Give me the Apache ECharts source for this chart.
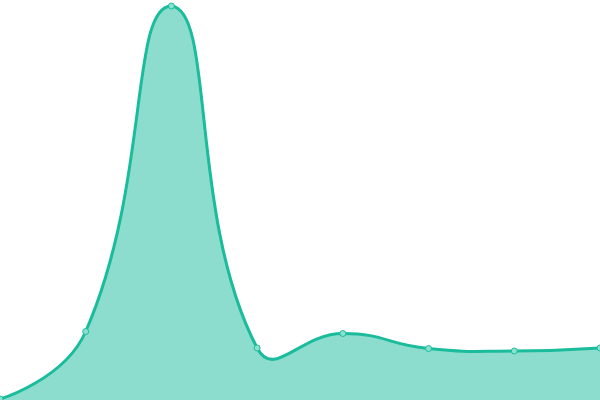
<!DOCTYPE html>
<html>
<head>
<meta charset="utf-8">
<script src="https://cdn.jsdelivr.net/npm/echarts@6/dist/echarts.min.js"></script>
<style>
  html, body { margin: 0; padding: 0; background: #fff; }
  #chart { width: 600px; height: 400px; }
</style>
</head>
<body>
<div id="chart"></div>
<script>
// x categories (evenly spaced points) and their values
const categories = ['A', 'B', 'C', 'D', 'E', 'F', 'G', 'H'];
const values = [1, 68.5, 394, 52, 66.5, 51.5, 49, 52];

const LINE = '#1abc9c';
const SMOOTH = 0.5;

// cardinal-style bezier control points (tangent = next - prev, split by segment length)
function controlPoints(pts) {
  let minY = Infinity, maxY = -Infinity;
  pts.forEach(p => { minY = Math.min(minY, p[1]); maxY = Math.max(maxY, p[1]); });
  const cps = [pts[0].slice()];
  for (let i = 1; i < pts.length - 1; i++) {
    const prev = pts[i - 1], cur = pts[i], next = pts[i + 1];
    const vx = (next[0] - prev[0]) * SMOOTH;
    const vy = (next[1] - prev[1]) * SMOOTH;
    let d0 = Math.hypot(cur[0] - prev[0], cur[1] - prev[1]);
    let d1 = Math.hypot(cur[0] - next[0], cur[1] - next[1]);
    const sum = d0 + d1;
    if (sum) { d0 /= sum; d1 /= sum; }
    const clampY = y => Math.min(maxY, Math.max(minY, y));
    cps.push([cur[0] - vx * d0, clampY(cur[1] - vy * d0)]);
    cps.push([cur[0] + vx * d1, clampY(cur[1] + vy * d1)]);
  }
  cps.push(pts[pts.length - 1].slice());
  return cps;
}

function curvePath(pts) {
  const cps = controlPoints(pts);
  let d = 'M' + pts[0][0] + ',' + pts[0][1];
  for (let i = 1; i < pts.length; i++) {
    const a = cps[(i - 1) * 2], b = cps[(i - 1) * 2 + 1];
    d += 'C' + a[0] + ',' + a[1] + ',' + b[0] + ',' + b[1] + ',' + pts[i][0] + ',' + pts[i][1];
  }
  return d;
}

const chart = echarts.init(document.getElementById('chart'));

const option = {
  animation: false,
  grid: { left: 0, right: 0, top: 6, bottom: 0 },
  xAxis: {
    type: 'category',
    data: categories,
    boundaryGap: false,
    show: false
  },
  yAxis: {
    type: 'value',
    min: 0,
    max: 394,
    show: false
  },
  series: [
    {
      type: 'custom',
      data: values.map((v, i) => [i, v]),
      clip: false,
      renderItem: function (params, api) {
        if (params.dataIndex !== 0) return null;
        const pts = values.map((v, i) => api.coord([i, v]));
        const base = api.coord([0, 0])[1];
        const line = curvePath(pts);
        const last = pts[pts.length - 1];
        const area = line + 'L' + last[0] + ',' + base + 'L' + pts[0][0] + ',' + base + 'Z';
        return {
          type: 'group',
          children: [
            { type: 'path', shape: { pathData: area }, style: { fill: LINE, opacity: 0.5, stroke: null } },
            { type: 'path', shape: { pathData: line }, style: { fill: null, stroke: LINE, lineWidth: 3 } }
          ]
        };
      }
    },
    {
      type: 'scatter',
      data: values,
      symbol: 'circle',
      symbolSize: 6,
      itemStyle: { color: '#8ce0cf', borderColor: LINE, borderWidth: 1, opacity: 1 }
    }
  ]
};

chart.setOption(option);
</script>
</body>
</html>
